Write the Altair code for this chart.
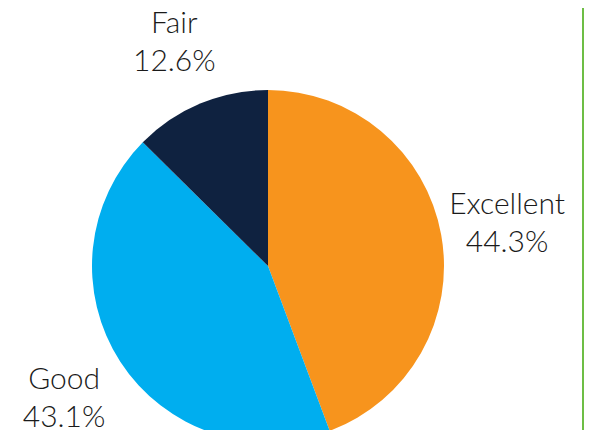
import altair as alt
import pandas as pd

categories = ["Excellent", "Good", "Fair"]
shares = [44.3, 43.1, 12.6]
colors = ["#F7941D", "#00AEEF", "#0F2240"]

df = pd.DataFrame({
    "category": categories,
    "share": shares,
    "rank": list(range(len(categories))),
})
df["label"] = [f"{c}\n{s:.1f}%" for c, s in zip(categories, shares)]

CX, CY = 260, 258

base = alt.Chart(df).encode(
    theta=alt.Theta("share:Q", stack=True),
    order=alt.Order("rank:Q", sort="ascending"),
)

pie = base.mark_arc(radius=176, stroke=None).encode(
    color=alt.Color("category:N", scale=alt.Scale(domain=categories, range=colors), legend=None),
    x=alt.value(CX), y=alt.value(CY),
)

labels = base.mark_text(
    radius=243, fontSize=30, font="Lato", fontWeight=300, color="#1a1a1a",
    lineBreak="\n", lineHeight=38, align="center", baseline="middle", dy=-18,
).encode(
    text="label:N",
    x=alt.value(CX), y=alt.value(CY),
)

border = alt.Chart(df).mark_rule(color="#6DBE45", strokeWidth=2).encode(
    x=alt.value(575), y=alt.value(-10), y2=alt.value(440)
)

chart = alt.layer(pie, labels, border).properties(
    width=576, height=422, padding=0,
    autosize=alt.AutoSizeParams(type="none"),
).configure_view(stroke=None)

chart.save("out.html", embed_options={"renderer": "svg", "actions": False})
